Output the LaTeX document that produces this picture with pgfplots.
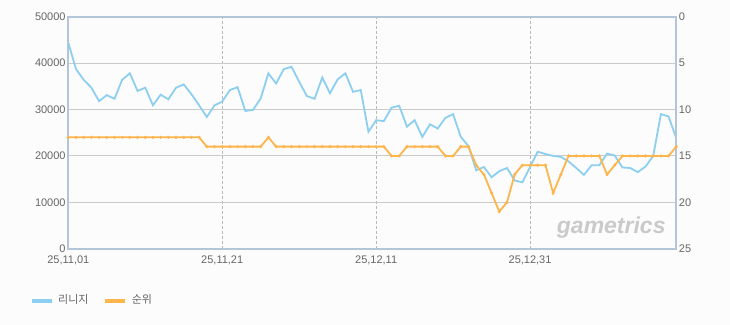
\documentclass[border=0pt]{standalone}
\usepackage{pgfplots}
\usepackage{pgfplotstable}
\pgfplotsset{compat=1.18}
\usepackage{fontspec}
\setmainfont{Liberation Sans}
\newfontfamily\kr{Noto Sans CJK KR}
\definecolor{lblue}{HTML}{8DCFF0}
\definecolor{lorange}{HTML}{FDB54C}
\definecolor{dorange}{HTML}{F5A83C}
\definecolor{framec}{HTML}{B3C5D7}
\definecolor{gridc}{HTML}{CBCBCB}
\definecolor{ticktext}{HTML}{666666}
\definecolor{bgc}{HTML}{FCFCFC}
\definecolor{wmark}{HTML}{CACACA}

\pgfplotstableread{
day value rank
0 44400 13
1 38700 13
2 36400 13
3 34700 13
4 31800 13
5 33100 13
6 32300 13
7 36400 13
8 37800 13
9 34000 13
10 34700 13
11 30900 13
12 33200 13
13 32200 13
14 34700 13
15 35400 13
16 33300 13
17 30900 13
18 28400 14
19 30900 14
20 31700 14
21 34200 14
22 34800 14
23 29700 14
24 29900 14
25 32400 14
26 37800 13
27 35600 14
28 38700 14
29 39200 14
30 36000 14
31 32900 14
32 32300 14
33 36900 14
34 33500 14
35 36500 14
36 37800 14
37 33800 14
38 34200 14
39 25200 14
40 27700 14
41 27500 14
42 30400 15
43 30800 15
44 26300 14
45 27700 14
46 24100 14
47 26800 14
48 25900 14
49 28200 15
50 29000 15
51 24100 14
52 22100 14
53 16900 16
54 17600 17
55 15400 19
56 16700 21
57 17400 20
58 14700 17
59 14300 16
60 17600 16
61 20900 16
62 20400 16
63 20000 19
64 19800 17
65 18800 15
66 17400 15
67 15900 15
68 18000 15
69 18000 15
70 20500 17
71 20100 16
72 17500 15
73 17400 15
74 16500 15
75 17700 15
76 20000 15
77 29000 15
78 28500 15
79 23800 14
}\datatable

\pgfplotsset{
  base/.style={
    at={(0,0)}, anchor=south west, scale only axis,
    width=608bp, height=232bp,
    xmin=0, xmax=79,
    axis line style={framec, line width=1.6bp},
    major tick length=0pt,
    tick label style={font=\fontsize{11bp}{13bp}\selectfont, text=ticktext, inner sep=0pt},
    /pgf/number format/assume math mode=true,
  }
}

\begin{document}
\begin{tikzpicture}
\fill[bgc] (-68.3bp,-76.3bp) rectangle (661.7bp,248.7bp);
\begin{axis}[base,
  ymin=0, ymax=50000,
  ytick={0,10000,20000,30000,40000,50000},
  scaled y ticks=false,
  /pgf/number format/fixed,
  /pgf/number format/1000 sep={},
  yticklabel style={xshift=-2.5bp},
  xtick={0,20,40,60},
  xticklabels={25{,}11{,}01,25{,}11{,}21,25{,}12{,}11,25{,}12{,}31},
  xticklabel style={yshift=-7bp},
  xmajorgrids, ymajorgrids,
  x grid style={gray!55, dash pattern=on 3bp off 2bp, line width=0.6bp},
  y grid style={gridc, line width=0.9bp},
  legend columns=2,
  legend style={at={(-0.063,-0.221)}, anchor=west, draw=none, fill=none,
    inner sep=0pt, outer sep=0pt,
    font=\kr\fontsize{11bp}{13bp}\selectfont, text=ticktext,
    nodes={inner xsep=0pt, inner ysep=1bp},
    /tikz/every odd column/.append style={column sep=5bp},
    /tikz/every even column/.append style={column sep=15bp}},
  legend image code/.code={\draw[#1, line width=3.2bp] (0bp,-1bp) -- (20bp,-1bp);},
]
\addplot[lblue, line width=1.8bp] table[x=day, y=value] {\datatable};
\addlegendentry{리니지}
\addlegendimage{lorange}
\addlegendentry{순위}
\node[text=wmark, font=\fontsize{23bp}{25bp}\selectfont\bfseries\itshape] at (rel axis cs:0.893,0.089) {gametrics};
\end{axis}
\begin{axis}[base,
  axis y line*=right, axis x line=none,
  ymin=0, ymax=25, y dir=reverse,
  ytick={0,5,10,15,20,25},
  yticklabel style={xshift=2.5bp},
]
\addplot[lorange, line width=1.8bp, mark=*, mark size=0.45bp, mark options={fill=dorange, draw=none}] table[x=day, y=rank] {\datatable};
\end{axis}
\end{tikzpicture}
\end{document}
